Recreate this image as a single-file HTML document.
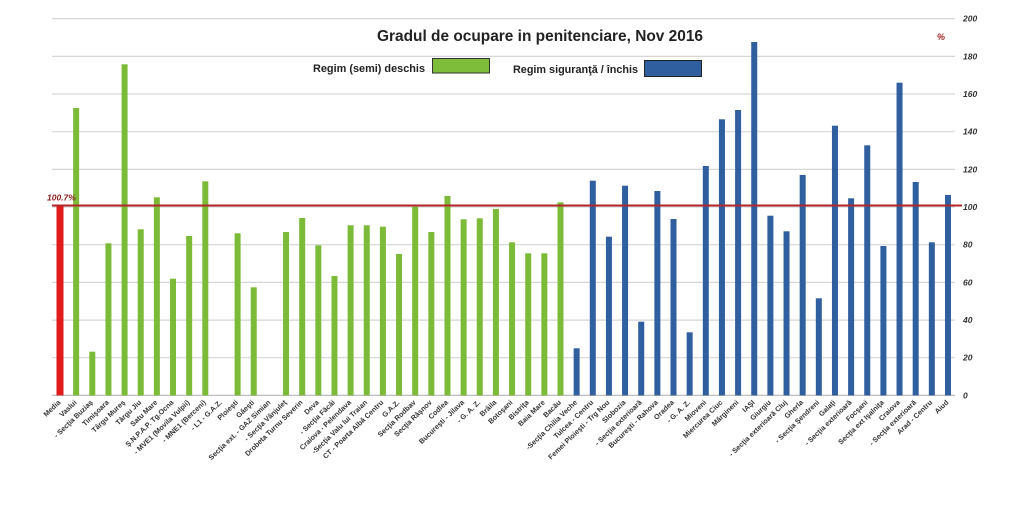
<!DOCTYPE html>
<html><head><meta charset="utf-8">
<style>
html,body{margin:0;padding:0;background:#fff;}
svg{display:block;}
text{font-family:"Liberation Sans",Arial,sans-serif;}
</style></head>
<body>
<svg width="1024" height="505" viewBox="0 0 1024 505" xmlns="http://www.w3.org/2000/svg">
<rect width="1024" height="505" fill="#fff"/>
<!-- gridlines -->
<g stroke="#d6d6d6" stroke-width="1.2">
<line x1="52" x2="955" y1="18.7" y2="18.7"/>
<line x1="52" x2="955" y1="56.4" y2="56.4"/>
<line x1="52" x2="955" y1="94" y2="94"/>
<line x1="52" x2="955" y1="131.7" y2="131.7"/>
<line x1="52" x2="955" y1="169.4" y2="169.4"/>
<line x1="52" x2="955" y1="207" y2="207"/>
<line x1="52" x2="955" y1="244.7" y2="244.7"/>
<line x1="52" x2="955" y1="282.4" y2="282.4"/>
<line x1="52" x2="955" y1="320.1" y2="320.1"/>
<line x1="52" x2="955" y1="357.7" y2="357.7"/>
</g>
<line x1="52" x2="955" y1="395.4" y2="395.4" stroke="#bdbdbd" stroke-width="1.2"/>
<!-- y labels -->
<g font-size="8.5" font-style="italic" font-weight="bold" fill="#333">
<text x="963" y="21.7">200</text>
<text x="963" y="59.4">180</text>
<text x="963" y="97">160</text>
<text x="963" y="134.7">140</text>
<text x="963" y="172.4">120</text>
<text x="963" y="210">100</text>
<text x="963" y="247.7">80</text>
<text x="963" y="285.4">60</text>
<text x="963" y="323.1">40</text>
<text x="963" y="360.7">20</text>
<text x="963" y="398.4">0</text>
</g>
<text x="937" y="40" font-size="9" font-style="italic" font-weight="bold" fill="#a02424">%</text>
<!-- title -->
<text x="540" y="41" text-anchor="middle" font-size="15.5" font-weight="bold" fill="#222" textLength="326" lengthAdjust="spacingAndGlyphs">Gradul de ocupare in penitenciare, Nov 2016</text>
<!-- legend -->
<text x="313" y="72" font-size="11" font-weight="bold" fill="#222" textLength="112" lengthAdjust="spacingAndGlyphs">Regim (semi) deschis</text>
<rect x="432.5" y="58.5" width="57" height="14.5" fill="#7dbd3a" stroke="#333" stroke-width="1"/>
<text x="513" y="73" font-size="11" font-weight="bold" fill="#222" textLength="125" lengthAdjust="spacingAndGlyphs">Regim siguranţă / închis</text>
<rect x="644.5" y="60.5" width="57" height="16" fill="#2f5f9e" stroke="#222" stroke-width="1"/>
<!-- bars -->
<rect x="56.5" y="205.7" width="7" height="189.7" fill="#e01c1c"/>
<g fill="#7bbb38">
<rect x="73.15" y="108" width="6" height="287.4"/>
<rect x="89.29" y="351.7" width="6" height="43.7"/>
<rect x="105.44" y="243.3" width="6" height="152.1"/>
<rect x="121.58" y="64.3" width="6" height="331.1"/>
<rect x="137.73" y="229.3" width="6" height="166.1"/>
<rect x="153.87" y="197.3" width="6" height="198.1"/>
<rect x="170.02" y="278.7" width="6" height="116.7"/>
<rect x="186.16" y="236" width="6" height="159.4"/>
<rect x="202.31" y="181.3" width="6" height="214.1"/>
<rect x="234.6" y="233.3" width="6" height="162.1"/>
<rect x="250.74" y="287.3" width="6" height="108.1"/>
<rect x="283.03" y="232" width="6" height="163.4"/>
<rect x="299.18" y="218" width="6" height="177.4"/>
<rect x="315.32" y="245.3" width="6" height="150.1"/>
<rect x="331.47" y="276" width="6" height="119.4"/>
<rect x="347.61" y="225.3" width="6" height="170.1"/>
<rect x="363.76" y="225.3" width="6" height="170.1"/>
<rect x="379.9" y="226.7" width="6" height="168.7"/>
<rect x="396.05" y="254" width="6" height="141.4"/>
<rect x="412.19" y="206.7" width="6" height="188.7"/>
<rect x="428.34" y="232" width="6" height="163.4"/>
<rect x="444.48" y="196" width="6" height="199.4"/>
<rect x="460.63" y="219.3" width="6" height="176.1"/>
<rect x="476.77" y="218.3" width="6" height="177.1"/>
<rect x="492.92" y="209" width="6" height="186.4"/>
<rect x="509.06" y="242.3" width="6" height="153.1"/>
<rect x="525.21" y="253.3" width="6" height="142.1"/>
<rect x="541.35" y="253.3" width="6" height="142.1"/>
<rect x="557.5" y="202.3" width="6" height="193.1"/>
</g>
<g fill="#2f5f9e">
<rect x="573.64" y="348.3" width="6" height="47.1"/>
<rect x="589.79" y="180.7" width="6" height="214.7"/>
<rect x="605.93" y="236.7" width="6" height="158.7"/>
<rect x="622.08" y="185.7" width="6" height="209.7"/>
<rect x="638.22" y="321.7" width="6" height="73.7"/>
<rect x="654.37" y="191" width="6" height="204.4"/>
<rect x="670.51" y="219" width="6" height="176.4"/>
<rect x="686.66" y="332.3" width="6" height="63.1"/>
<rect x="702.8" y="166" width="6" height="229.4"/>
<rect x="718.95" y="119.3" width="6" height="276.1"/>
<rect x="735.09" y="110" width="6" height="285.4"/>
<rect x="751.24" y="42" width="6" height="353.4"/>
<rect x="767.38" y="215.7" width="6" height="179.7"/>
<rect x="783.53" y="231.3" width="6" height="164.1"/>
<rect x="799.67" y="175" width="6" height="220.4"/>
<rect x="815.82" y="298.3" width="6" height="97.1"/>
<rect x="831.96" y="125.7" width="6" height="269.7"/>
<rect x="848.11" y="198.3" width="6" height="197.1"/>
<rect x="864.25" y="145.3" width="6" height="250.1"/>
<rect x="880.4" y="246" width="6" height="149.4"/>
<rect x="896.54" y="82.7" width="6" height="312.7"/>
<rect x="912.69" y="182" width="6" height="213.4"/>
<rect x="928.83" y="242.3" width="6" height="153.1"/>
<rect x="944.98" y="195" width="6" height="200.4"/>
</g>
<!-- average line -->
<line x1="52" x2="962" y1="205.5" y2="205.5" stroke="#b3262a" stroke-width="2"/>
<text x="47" y="200.5" font-size="8.5" font-style="italic" font-weight="bold" fill="#8e2020">100.7%</text>
<!-- x labels -->
<g font-size="7.2" font-weight="bold" fill="#333" text-anchor="end">
<text transform="translate(61,403) rotate(-44)">Media</text>
<text transform="translate(77.15,403) rotate(-44)">Vaslui</text>
<text transform="translate(93.29,403) rotate(-44)">- Secţia Buziaş</text>
<text transform="translate(109.44,403) rotate(-44)">Timişoara</text>
<text transform="translate(125.58,403) rotate(-44)">Târgu Mureş</text>
<text transform="translate(141.73,403) rotate(-44)">Târgu Jiu</text>
<text transform="translate(157.87,403) rotate(-44)">Satu Mare</text>
<text transform="translate(174.02,403) rotate(-44)">Ş.N.P.A.P. Tg.Ocna</text>
<text transform="translate(190.16,403) rotate(-44)">- MVE1 (Movila Vulpii)</text>
<text transform="translate(206.31,403) rotate(-44)">- MNE1 (Berceni)</text>
<text transform="translate(222.45,403) rotate(-44)">- L1 - G.A.Z.</text>
<text transform="translate(238.6,403) rotate(-44)">Ploieşti</text>
<text transform="translate(254.74,403) rotate(-44)">Găeşti</text>
<text transform="translate(270.89,403) rotate(-44)">Secţia ext. - GAZ Simian</text>
<text transform="translate(287.03,403) rotate(-44)">- Secţia Vânjuleţ</text>
<text transform="translate(303.18,403) rotate(-44)">Drobeta Turnu Severin</text>
<text transform="translate(319.32,403) rotate(-44)">Deva</text>
<text transform="translate(335.47,403) rotate(-44)">- Secţia Făcăi</text>
<text transform="translate(351.61,403) rotate(-44)">Craiova - Pelendava</text>
<text transform="translate(367.76,403) rotate(-44)">-Secţia Valu lui Traian</text>
<text transform="translate(383.9,403) rotate(-44)">CT - Poarta Albă Centru</text>
<text transform="translate(400.05,403) rotate(-44)">G.A.Z.</text>
<text transform="translate(416.19,403) rotate(-44)">Secţia Rodbav</text>
<text transform="translate(432.34,403) rotate(-44)">Secţia Râşnov</text>
<text transform="translate(448.48,403) rotate(-44)">Codlea</text>
<text transform="translate(464.63,403) rotate(-44)">Bucureşti - Jilava</text>
<text transform="translate(480.77,403) rotate(-44)">- G. A. Z.</text>
<text transform="translate(496.92,403) rotate(-44)">Brăila</text>
<text transform="translate(513.06,403) rotate(-44)">Botoşani</text>
<text transform="translate(529.21,403) rotate(-44)">Bistriţa</text>
<text transform="translate(545.35,403) rotate(-44)">Baia Mare</text>
<text transform="translate(561.5,403) rotate(-44)">Bacău</text>
<text transform="translate(577.64,403) rotate(-44)">-Secţia Chilia Veche</text>
<text transform="translate(593.79,403) rotate(-44)">Tulcea - Centru</text>
<text transform="translate(609.93,403) rotate(-44)">Femei Ploieşti - Trg Nou</text>
<text transform="translate(626.08,403) rotate(-44)">Slobozia</text>
<text transform="translate(642.22,403) rotate(-44)">- Secţia exterioară</text>
<text transform="translate(658.37,403) rotate(-44)">Bucureşti - Rahova</text>
<text transform="translate(674.51,403) rotate(-44)">Oradea</text>
<text transform="translate(690.66,403) rotate(-44)">- G. A. Z.</text>
<text transform="translate(706.8,403) rotate(-44)">Mioveni</text>
<text transform="translate(722.95,403) rotate(-44)">Miercurea Ciuc</text>
<text transform="translate(739.09,403) rotate(-44)">Mărgineni</text>
<text transform="translate(755.24,403) rotate(-44)">IAŞI</text>
<text transform="translate(771.38,403) rotate(-44)">Giurgiu</text>
<text transform="translate(787.53,403) rotate(-44)">- Secţia exterioară Cluj</text>
<text transform="translate(803.67,403) rotate(-44)">Gherla</text>
<text transform="translate(819.82,403) rotate(-44)">- Secţia Şendreni</text>
<text transform="translate(835.96,403) rotate(-44)">Galaţi</text>
<text transform="translate(852.11,403) rotate(-44)">- Secţia exterioară</text>
<text transform="translate(868.25,403) rotate(-44)">Focşani</text>
<text transform="translate(884.4,403) rotate(-44)">Secţia ext Işalniţa</text>
<text transform="translate(900.54,403) rotate(-44)">Craiova</text>
<text transform="translate(916.69,403) rotate(-44)">- Secţia exterioară</text>
<text transform="translate(932.83,403) rotate(-44)">Arad - Centru</text>
<text transform="translate(948.98,403) rotate(-44)">Aiud</text>
</g>
</svg>
</body></html>
